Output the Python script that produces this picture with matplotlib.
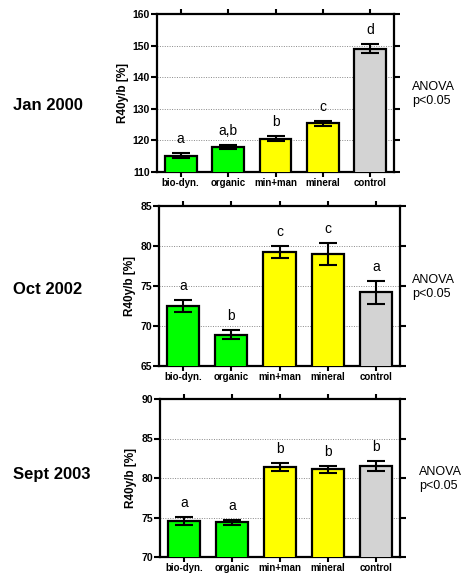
import matplotlib
matplotlib.use("Agg")
import matplotlib.pyplot as plt
import numpy as np

plt.rcParams["font.family"] = ["Liberation Sans", "DejaVu Sans"]

# categories and colours
categories = ["bio-dyn.", "organic", "min+man", "mineral", "control"]
bar_colors = ["#00ff00", "#00ff00", "#ffff00", "#ffff00", "#d3d3d3"]

# Jan 2000
jan2000_mean = [115.2, 118.0, 120.6, 125.4, 149.0]
jan2000_err = [0.8, 0.6, 0.9, 0.8, 1.4]
jan2000_letters = ["a", "a,b", "b", "c", "d"]

# Oct 2002
oct2002_mean = [72.5, 68.9, 79.3, 79.0, 74.2]
oct2002_err = [0.75, 0.55, 0.75, 1.4, 1.4]
oct2002_letters = ["a", "b", "c", "c", "a"]

# Sept 2003
sep2003_mean = [74.6, 74.4, 81.4, 81.1, 81.5]
sep2003_err = [0.5, 0.3, 0.55, 0.45, 0.6]
sep2003_letters = ["a", "a", "b", "b", "b"]

panels = [
    ("Jan 2000", jan2000_mean, jan2000_err, jan2000_letters, (110, 160), 10),
    ("Oct 2002", oct2002_mean, oct2002_err, oct2002_letters, (65, 85), 5),
    ("Sept 2003", sep2003_mean, sep2003_err, sep2003_letters, (70, 90), 5),
]

W, H = 468, 575
fig = plt.figure(figsize=(W / 100, H / 100), dpi=100)

# axes boxes in pixels: left, top, right, bottom
boxes = [(157, 14, 394, 172), (159, 206, 400, 366), (160, 399, 400, 557)]
row_label_y = [105, 290, 474]
anova_pos = [(412, 94), (412, 287), (419, 479)]

x = np.arange(len(categories))

for (title, mean, err, letters, ylim, step), box, ry, apos in zip(
        panels, boxes, row_label_y, anova_pos):
    l, t, r, b = box
    ax = fig.add_axes([l / W, 1 - b / H, (r - l) / W, (b - t) / H])

    ax.bar(x, mean, width=0.67, color=bar_colors, edgecolor="black",
           linewidth=1.6, zorder=3)
    ax.errorbar(x, mean, yerr=err, fmt="none", ecolor="black",
                elinewidth=1.5, capsize=6.5, capthick=1.5, zorder=4)

    for xi, m, e, lab in zip(x, mean, err, letters):
        ax.annotate(lab, (xi, m + e), xytext=(0, 5), textcoords="offset points",
                    ha="center", va="bottom", fontsize=10)

    ax.set_xlim(-0.5, 4.5)
    ax.set_ylim(*ylim)
    yt = np.arange(ylim[0], ylim[1] + 0.1, step)
    ax.set_yticks(yt)
    ax.set_xticks(x)
    ax.set_xticklabels(categories, fontsize=7, fontweight="bold")
    for lbl in ax.get_yticklabels():
        lbl.set_fontsize(7.5)
        lbl.set_fontweight("bold")

    for yv in yt[1:-1]:
        ax.axhline(yv, color="#888888", linestyle=(0, (1, 1.5)),
                   linewidth=0.7, zorder=1)

    for s in ax.spines.values():
        s.set_linewidth(1.6)

    ax.tick_params(axis="y", direction="out", length=4, width=1.5,
                   right=True, pad=1)
    ax.tick_params(axis="x", direction="out", length=3.5, width=1.5,
                   top=True, pad=0.5)

    ax.set_ylabel("R40y/b [%]", fontsize=8.5, fontweight="bold", labelpad=3)

    fig.text(13 / W, 1 - ry / H, title, fontsize=12, fontweight="bold",
             ha="left", va="center")
    fig.text(apos[0] / W, 1 - apos[1] / H, "ANOVA\np<0.05", fontsize=9,
             ha="left", va="center", linespacing=1.2)

fig.savefig("out.png", dpi=100)
